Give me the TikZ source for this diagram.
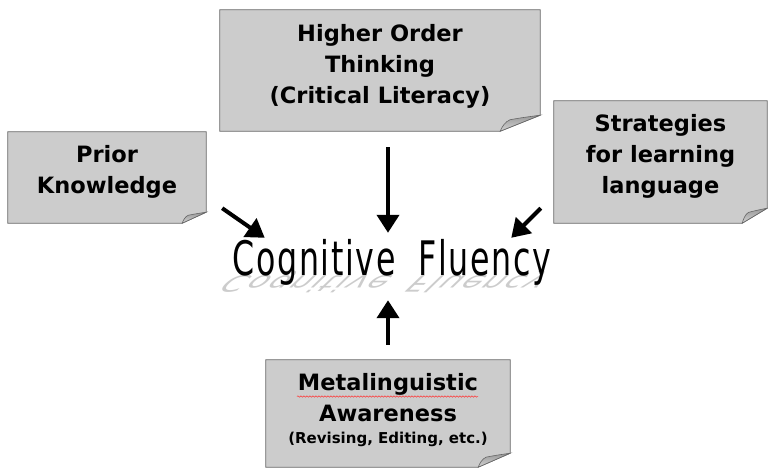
\documentclass[tikz,border=0pt]{standalone}
\usepackage{fontspec}
\usepackage{graphicx}
\usetikzlibrary{positioning, arrows.meta, decorations.pathmorphing, backgrounds}

\newfontfamily\notefont{DejaVu Sans}
\newfontfamily\fluencyfont[LetterSpace=5, WordSpace=2]{DejaVu Sans}

\colorlet{notefill}{gray!40}
\colorlet{noteline}{black!60}

% sticky note with a curled corner: #1 node, #2 curl width, #3 curl height
\newcommand{\foldnote}[3]{%
  \draw[noteline, fill=notefill, line width=0.8pt]
    (#1.north west) -- (#1.north east) -- ([yshift=#3]#1.south east)
    -- ([xshift=-#2]#1.south east) -- (#1.south west) -- cycle;
  \draw[noteline, line width=0.6pt, top color=gray!80, bottom color=gray!35]
    ([yshift=#3]#1.south east)
    .. controls ([xshift=-0.45*#2,yshift=0.85*#3]#1.south east) .. ([xshift=-0.75*#2,yshift=0.72*#3]#1.south east)
    .. controls ([xshift=-0.88*#2,yshift=0.6*#3]#1.south east) and ([xshift=-0.96*#2,yshift=0.25*#3]#1.south east) .. ([xshift=-#2]#1.south east)
    -- cycle;
}

\newcommand{\fluencytext}{\resizebox*{318pt}{46pt}{\fluencyfont Cognitive Fluency}}

\begin{document}
\begin{tikzpicture}[
  x=1pt, y=-1pt,
  note/.style={inner sep=0pt},
  notetext/.style={font=\notefont\bfseries\fontsize{22.5}{31}\selectfont, align=center, inner sep=0pt},
  fluency/.style={inner sep=0pt},
  arrow/.style={-{Triangle[length=18pt,width=22pt]}, line width=4pt}
]
\useasboundingbox (0,0) rectangle (768,475);

% ===== Notes =====
\node[note, minimum width=320pt, minimum height=121pt] (higher) at (380,70.5) {};
\foldnote{higher}{40pt}{16pt}
\node[notetext] (higher text) at ([yshift=4.5pt]higher.center) {Higher Order\\Thinking\\(Critical Literacy)};

\node[note, minimum width=198pt, minimum height=91pt] (prior) at (107,177.5) {};
\foldnote{prior}{24pt}{11pt}
\node[notetext] (prior text) at ([yshift=5.5pt]prior.center) {Prior\\Knowledge};

\node[note, minimum width=213pt, minimum height=122pt] (strategies) at (660.5,162) {};
\foldnote{strategies}{25pt}{15pt}
\node[notetext] (strategies text) at ([yshift=6pt]strategies.center) {Strategies\\for learning\\language};

\node[note, minimum width=244pt, minimum height=107pt] (meta) at (388,413.5) {};
\foldnote{meta}{32pt}{14pt}
\node[notetext] (meta text) at ([yshift=3.5pt]meta.center)
  {Metalinguistic\\Awareness\\[-9pt]{\fontsize{15}{18}\selectfont (Revising, Editing, etc.)}};
\draw[red!80, line width=0.5pt, decorate, decoration={snake, amplitude=0.7pt, segment length=3pt}]
  (297,396.5) -- (478,396.5);

% ===== Cognitive Fluency =====
\node[fluency] (fluency) at (392,262) {\fluencytext};
\begin{scope}[on background layer, shift={(fluency.base west)}, cm={1,0,-0.5,-0.48,(0,0)}]
  \node[fluency, anchor=base west, transform shape, text=gray!40] (fluency shadow) at (0,0) {\fluencytext};
\end{scope}

% ===== Arrows =====
\draw[arrow] ([xshift=16pt,yshift=15pt]prior.south east) -- ([xshift=32pt,yshift=1pt]fluency.north west);
\draw[arrow] ([xshift=8pt,yshift=-16pt]higher.south) -- ([xshift=-4pt,yshift=6pt]fluency.north);
\draw[arrow] ([xshift=-13pt,yshift=15pt]strategies.south west) -- ([xshift=-40pt,yshift=1pt]fluency.north east);
\draw[arrow] ([yshift=15pt]meta.north) -- ([xshift=-4pt,yshift=-15pt]fluency.south);

\end{tikzpicture}
\end{document}
